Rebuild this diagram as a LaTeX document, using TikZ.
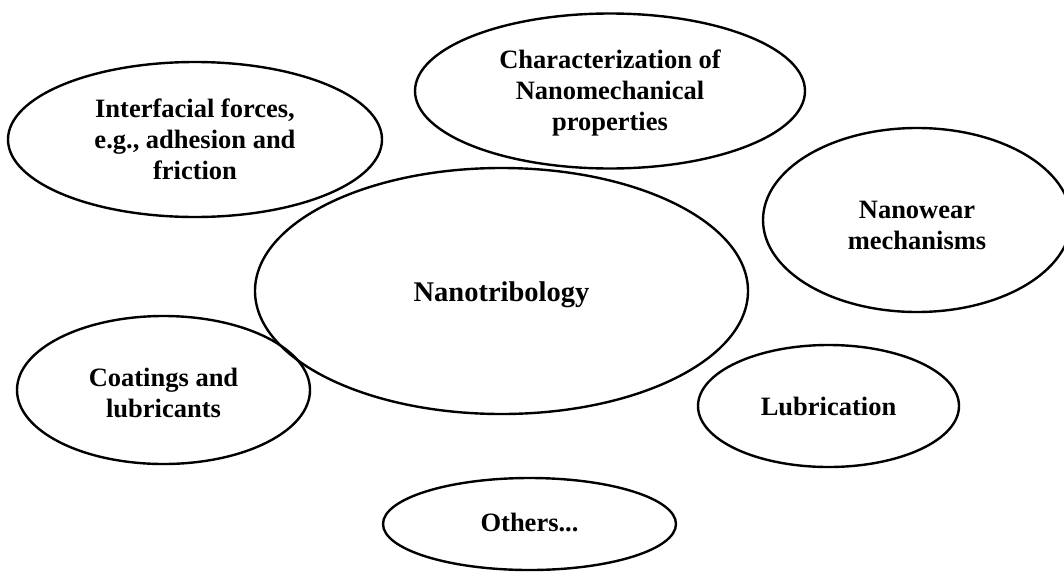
\documentclass[tikz,border=0pt]{standalone}
\usepackage{fontspec}
\setmainfont{Liberation Serif}
\usetikzlibrary{shapes.geometric}
\begin{document}
\begin{tikzpicture}[x=1pt,y=-1pt,
  bubble/.style={ellipse,draw,line width=2.4pt,inner sep=0pt},
  txt/.style={inner sep=0pt,align=center,font=\bfseries\fontsize{26.5}{31}\selectfont},
]
\useasboundingbox (0,0) rectangle (1064,573);
\clip (0,0) rectangle (1064,573);
\node[bubble,minimum width=374,minimum height=155] (inter) at (195,139.5) {};
\node[txt] (interT) at (inter.center) {Interfacial forces,\\e.g., adhesion and\\friction};
\node[bubble,minimum width=390,minimum height=155] (char) at (610,91) {};
\node[txt] (charT) at ([yshift=-2pt]char.center) {Characterization of\\Nanomechanical\\properties};
\node[bubble,minimum width=308,minimum height=184] (wear) at (917,220) {};
\node[txt] (wearT) at ([yshift=-5pt]wear.center) {Nanowear\\mechanisms};
\node[bubble,minimum width=493,minimum height=246] (nano) at (501.5,291) {};
\node[txt,font=\bfseries\fontsize{28.5}{33}\selectfont] (nanoT) at ([yshift=-4pt]nano.center) {Nanotribology};
\node[bubble,minimum width=293,minimum height=148] (coat) at (163.5,390) {};
\node[txt] (coatT) at ([yshift=-3pt]coat.center) {Coatings and\\lubricants};
\node[bubble,minimum width=261,minimum height=122] (lub) at (828.5,406) {};
\node[txt] (lubT) at (lub.center) {Lubrication};
\node[bubble,minimum width=293,minimum height=92] (oth) at (529.5,524) {};
\node[txt] (othT) at ([yshift=2pt]oth.center) {Others...};
\end{tikzpicture}
\end{document}
